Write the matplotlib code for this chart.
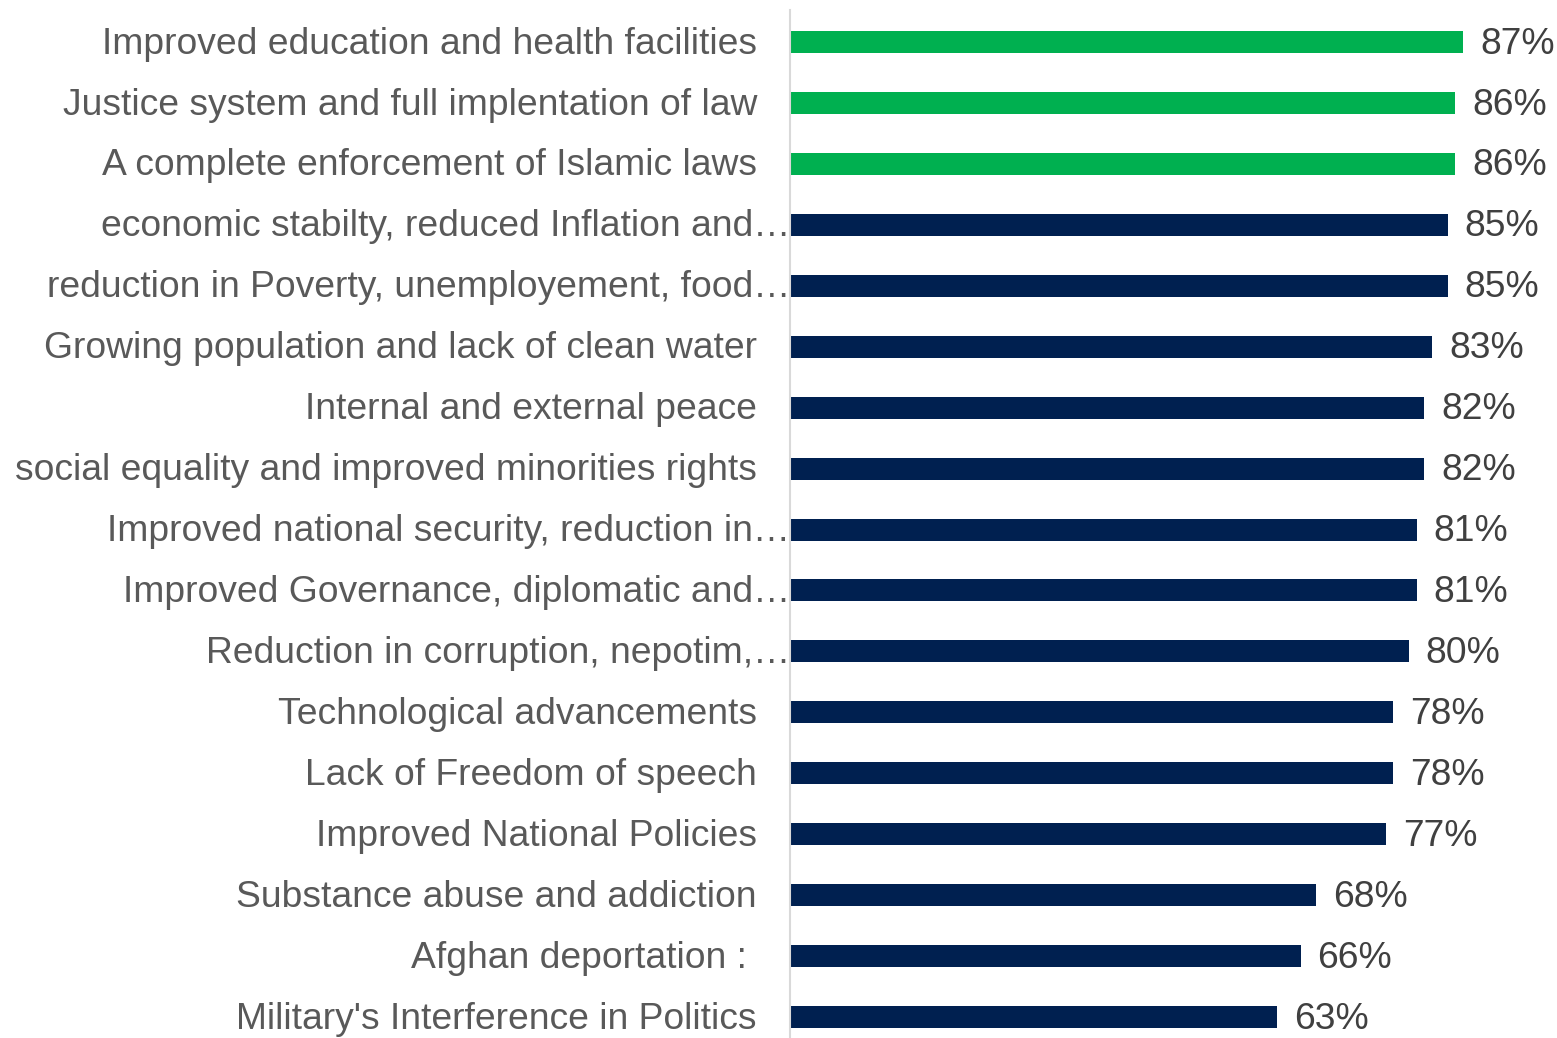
import numpy as np
import matplotlib
matplotlib.use("Agg")
import matplotlib.pyplot as plt

plt.rcParams['font.family'] = ['Liberation Sans', 'DejaVu Sans']

categories = [
    "Improved education and health facilities",
    "Justice system and full implentation of law",
    "A complete enforcement of Islamic laws",
    "economic stabilty, reduced Inflation and…",
    "reduction in Poverty, unemployement, food…",
    "Growing population and lack of clean water",
    "Internal and external peace",
    "social equality and improved minorities rights",
    "Improved national security, reduction in…",
    "Improved Governance, diplomatic and…",
    "Reduction in corruption, nepotim,…",
    "Technological advancements",
    "Lack of Freedom of speech",
    "Improved National Policies",
    "Substance abuse and addiction",
    "Afghan deportation : ",
    "Military's Interference in Politics",
]
values = [87, 86, 86, 85, 85, 83, 82, 82, 81, 81, 80, 78, 78, 77, 68, 66, 63]
highlight = [True, True, True] + [False] * 14

green = "#00B050"
navy = "#002050"

W, H = 1557, 1038
fig = plt.figure(figsize=(W / 100, H / 100), dpi=100)

n = len(categories)
# pixel layout of the plot area
first, last = 42.0, 1017.0
step = (last - first) / (n - 1)
top_px, bot_px = 10.0, 1038.0
left_px, right_px = 790.0, 1557.0
px_per_pct = (1463 - 790) / 87.0

ax = fig.add_axes([left_px / W, 1 - bot_px / H, (right_px - left_px) / W, (bot_px - top_px) / H])

y = np.arange(n)
colors = [green if h else navy for h in highlight]
ax.barh(y, values, height=22 / step, color=colors)

ax.set_ylim((bot_px - first) / step, (top_px - first) / step)
ax.set_xlim(0, (right_px - left_px) / px_per_pct)

for i, (cat, v) in enumerate(zip(categories, values)):
    off = 0 if cat.endswith("…") else -33 * 0.72
    ax.annotate(cat, xy=(0, i), xytext=(off, -1.5), textcoords="offset points",
                ha="right", va="center", fontsize=26.8, color="#595959",
                annotation_clip=False)
    ax.annotate(f"{v}%", xy=(v, i), xytext=(17 * 0.72, -1.5), textcoords="offset points",
                ha="left", va="center", fontsize=26.8, color="#404040",
                annotation_clip=False)

ax.set_xticks([])
ax.set_yticks([])
for s in ["top", "right", "bottom"]:
    ax.spines[s].set_visible(False)
ax.spines["left"].set_color("#D9D9D9")
ax.spines["left"].set_linewidth(1.5)

fig.savefig("out.png", dpi=100)
